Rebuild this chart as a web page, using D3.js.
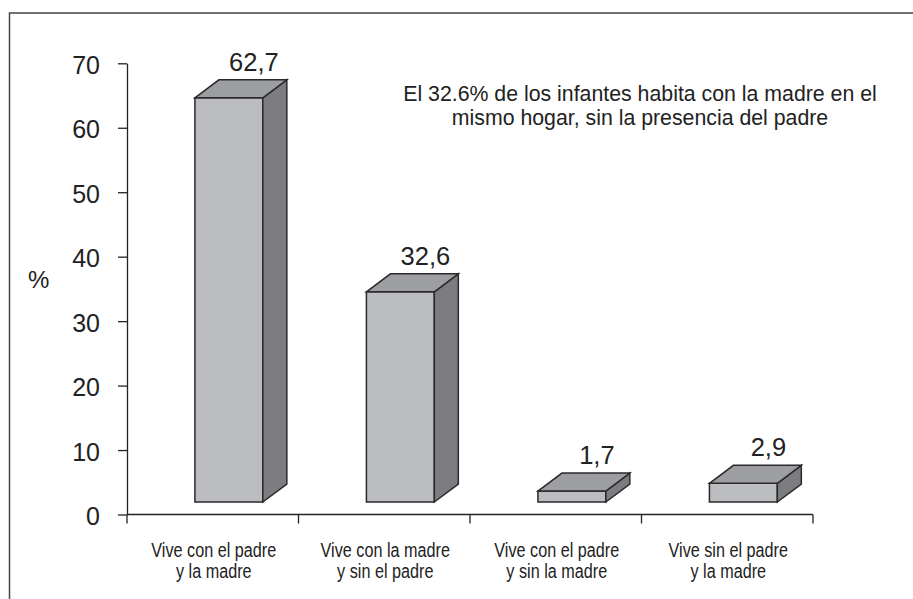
<!DOCTYPE html>
<html>
<head>
<meta charset="utf-8">
<script src="https://cdn.jsdelivr.net/npm/d3@7"></script>
<style>
  body { margin: 0; background: #fff; }
  svg { display: block; }
</style>
</head>
<body>
<svg id="chart" width="913" height="599"></svg>
<script>
// datos
const categories = [
  ["Vive con el padre", "y la madre"],
  ["Vive con la madre", "y sin el padre"],
  ["Vive con el padre", "y sin la madre"],
  ["Vive sin el padre", "y la madre"]
]
const values = [62.7, 32.6, 1.7, 2.9]
const valueLabels = ["62,7", "32,6", "1,7", "2,9"]
const yTicks = [0, 10, 20, 30, 40, 50, 60, 70]
const note = ["El 32.6% de los infantes habita con la madre en el", "mismo hogar, sin la presencia del padre"]

const svg = d3.select("#chart")
const ink = "#222"
const font = "'Liberation Sans', Arial, sans-serif"

// marco (solo arriba e izquierda)
svg.append("path")
  .attr("d", "M9.5,599 L9.5,13 L913,13")
  .attr("fill", "none")
  .attr("stroke", "#444")
  .attr("stroke-width", 1.5)

const x = d3.scaleBand()
  .domain(d3.range(categories.length))
  .range([127, 813])
  .paddingInner(0).paddingOuter(0)

const y = d3.scaleLinear()
  .domain([0, 70])
  .range([514.5, 63.3])

// eje Y
const yAxis = svg.append("g")
  .attr("transform", "translate(127,0)")
  .call(d3.axisLeft(y).tickValues(yTicks).tickSize(9).tickSizeOuter(0).tickPadding(18))
yAxis.select(".domain").attr("stroke", ink).attr("stroke-width", 1.3)
yAxis.selectAll(".tick line").attr("stroke", ink).attr("stroke-width", 1.3)
yAxis.selectAll(".tick text")
  .attr("fill", ink)
  .style("font-family", font)
  .style("font-size", "25px")
  .attr("dy", "0.4em")

// eje X
const xAxisG = svg.append("g")
  .attr("transform", `translate(0,${y(0)})`)
xAxisG.append("line")
  .attr("x1", 127).attr("x2", 813)
  .attr("stroke", ink).attr("stroke-width", 1.3)
xAxisG.selectAll(".xt")
  .data(d3.range(categories.length + 1))
  .join("line")
  .attr("x1", i => 127 + i * x.bandwidth())
  .attr("x2", i => 127 + i * x.bandwidth())
  .attr("y1", 0).attr("y2", 9)
  .attr("stroke", ink).attr("stroke-width", 1.3)

// etiqueta %
svg.append("text")
  .attr("x", 28).attr("y", 288)
  .attr("fill", ink)
  .style("font-family", font)
  .style("font-size", "24px")
  .text("%")

// barras 3D
const depthX = 24, depthY = 18
const floorShift = 12.5
const barW = x.bandwidth() * 0.396

const bars = svg.append("g")
values.forEach((v, i) => {
  const x0 = x(i) + x.bandwidth() * 0.396
  const x1 = x0 + barW
  const yb = y(0) - floorShift
  const yt = y(v) - floorShift
  const g = bars.append("g")
  // frente
  g.append("path")
    .attr("d", `M${x0},${yb} L${x1},${yb} L${x1},${yt} L${x0},${yt} Z`)
    .attr("fill", "#bcbdc1")
  // lado
  g.append("path")
    .attr("d", `M${x1},${yb} L${x1 + depthX},${yb - depthY} L${x1 + depthX},${yt - depthY} L${x1},${yt} Z`)
    .attr("fill", "#7c7d81")
  // tapa
  g.append("path")
    .attr("d", `M${x0},${yt} L${x0 + depthX},${yt - depthY} L${x1 + depthX},${yt - depthY} L${x1},${yt} Z`)
    .attr("fill", "#9d9ea2")
  g.selectAll("path")
    .attr("stroke", "#2a2a2a")
    .attr("stroke-width", 1.5)
    .attr("stroke-linejoin", "miter")

  g.append("text")
    .attr("x", (x0 + x1) / 2 + depthX + 1)
    .attr("y", yt - depthY - 9)
    .attr("text-anchor", "middle")
    .attr("fill", ink)
    .style("font-family", font)
    .style("font-size", "25.5px")
    .text(valueLabels[i])
})

// etiquetas de categoria (letra estrecha)
const catG = svg.append("g")
categories.forEach((lines, i) => {
  const cx = x(i) + x.bandwidth() / 2 + 1
  lines.forEach((l, k) => {
    catG.append("text")
      .attr("transform", `translate(${cx},${557 + k * 20.5}) scale(0.81,1)`)
      .attr("text-anchor", "middle")
      .attr("fill", ink)
      .style("font-family", font)
      .style("font-size", "20px")
      .text(l)
  })
})

// nota
const noteT = svg.append("text")
  .attr("text-anchor", "middle")
  .attr("fill", ink)
  .style("font-family", font)
  .style("font-size", "21.3px")
note.forEach((l, k) => {
  noteT.append("tspan")
    .attr("x", 640)
    .attr("y", 101 + k * 24)
    .text(l)
})
</script>
</body>
</html>
